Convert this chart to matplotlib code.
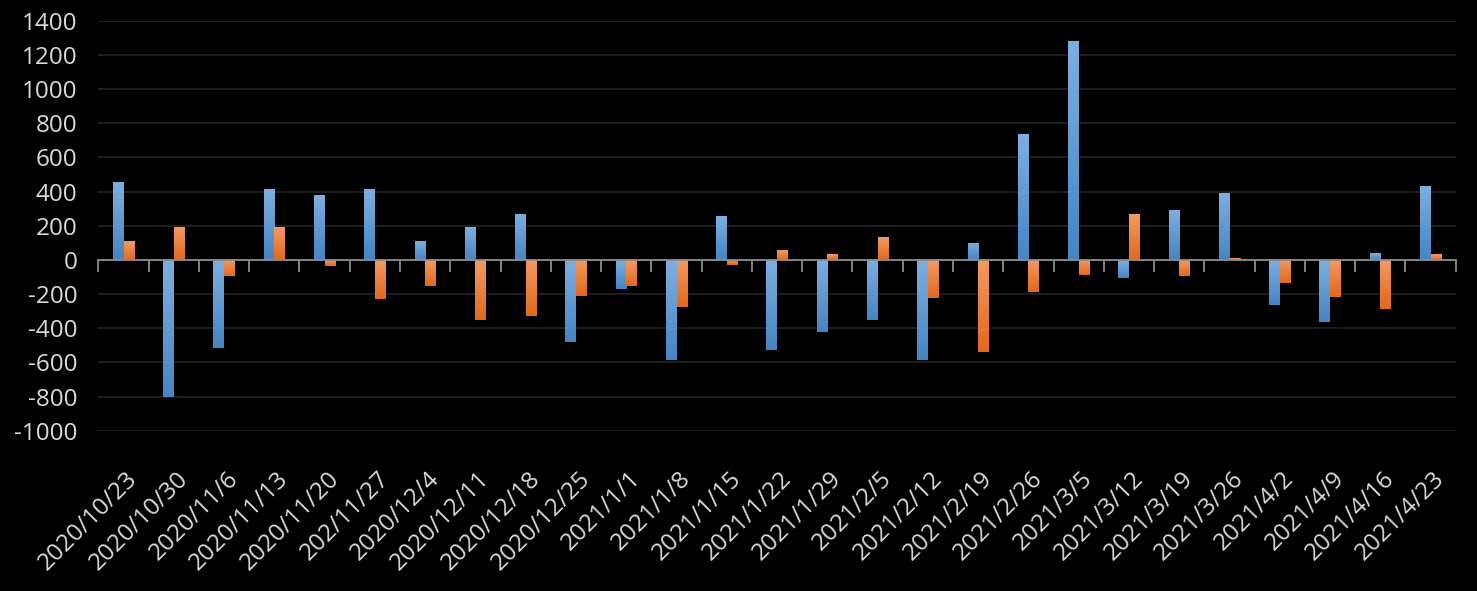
import numpy as np
import matplotlib
matplotlib.use("Agg")
import matplotlib.pyplot as plt
from matplotlib import transforms
from matplotlib.colors import LinearSegmentedColormap

categories = ["2020/10/23", "2020/10/30", "2020/11/6", "2020/11/13", "2020/11/20",
              "202/11/27", "2020/12/4", "2020/12/11", "2020/12/18", "2020/12/25",
              "2021/1/1", "2021/1/8", "2021/1/15", "2021/1/22", "2021/1/29",
              "2021/2/5", "2021/2/12", "2021/2/19", "2021/2/26", "2021/3/5",
              "2021/3/12", "2021/3/19", "2021/3/26", "2021/4/2", "2021/4/9",
              "2021/4/16", "2021/4/23"]
series_blue = [455, -800, -515, 415, 380, 415, 110, 190, 270, -480,
               -170, -585, 255, -530, -425, -350, -585, 100, 735, 1280,
               -105, 290, 390, -265, -365, 40, 432]
series_orange = [110, 190, -92, 190, -35, -228, -152, -352, -328, -212,
                 -152, -276, -30, 57, 33, 133, -222, -540, -190, -90,
                 267, -93, 10, -135, -217, -287, 35]
yticks = [-1000, -800, -600, -400, -200, 0, 200, 400, 600, 800, 1000, 1200, 1400]

plt.rcParams['font.family'] = ['Open Sans', 'DejaVu Sans']
txt_color = '#D9D9D9'
fs = 17.5

fig = plt.figure(figsize=(14.77, 5.91), dpi=100, facecolor='black')
ax = fig.add_axes([0.0666, 0.2712, 0.9190, 0.6938], facecolor='black')

x = np.arange(len(categories))
bw = 0.21
blue_cmap = LinearSegmentedColormap.from_list('b', ['#4585C3', '#7DAFE0'])
orange_cmap = LinearSegmentedColormap.from_list('o', ['#E2691A', '#F39A63'])

b1 = ax.bar(x - bw / 2, series_blue, bw, color='#5B9BD5', linewidth=0, zorder=2)
b2 = ax.bar(x + bw / 2, series_orange, bw, color='#ED7D31', linewidth=0, zorder=2)

grad = np.linspace(1, 0, 128).reshape(-1, 1)
for bars, cm in ((b1, blue_cmap), (b2, orange_cmap)):
    for r in bars:
        x0, y0 = r.get_x(), r.get_y()
        w, h = r.get_width(), r.get_height()
        lo, hi = min(y0, y0 + h), max(y0, y0 + h)
        im = ax.imshow(grad, extent=[x0, x0 + w, lo, hi], origin='upper',
                       aspect='auto', cmap=cm, vmin=0, vmax=1, zorder=2.5,
                       interpolation='bilinear')
        im.set_clip_path(r)

ax.set_xlim(-0.5, len(categories) - 0.5)
ax.set_ylim(-1000, 1400)
ax.set_yticks(yticks)
ax.set_yticklabels([str(v) for v in yticks])
ax.yaxis.grid(True, color='#262626', linewidth=1.1)
ax.set_axisbelow(True)

for s in ('left', 'right', 'bottom'):
    ax.spines[s].set_visible(False)
ax.spines['top'].set_position(('data', 0))
ax.spines['top'].set_color('#8C8C8C')
ax.spines['top'].set_linewidth(1.3)
ax.spines['top'].set_zorder(3)

ax.set_xticks(np.arange(len(categories) + 1) - 0.5)
ax.tick_params(axis='x', which='major', bottom=False, top=True,
               labelbottom=False, labeltop=False, direction='in',
               length=8.6, width=1.3, color='#8C8C8C')
ax.tick_params(axis='y', length=0, pad=15, labelsize=fs, labelcolor=txt_color)

base = transforms.blended_transform_factory(ax.transData, ax.transAxes)
off = transforms.offset_copy(base, fig=fig, x=15, y=-49, units='dots')
for i, lab in enumerate(categories):
    ax.text(i, 0, lab, transform=off, rotation=45, rotation_mode='anchor',
            ha='right', va='baseline', fontsize=fs, color=txt_color)

fig.savefig('out.png', dpi=100, facecolor='black')
